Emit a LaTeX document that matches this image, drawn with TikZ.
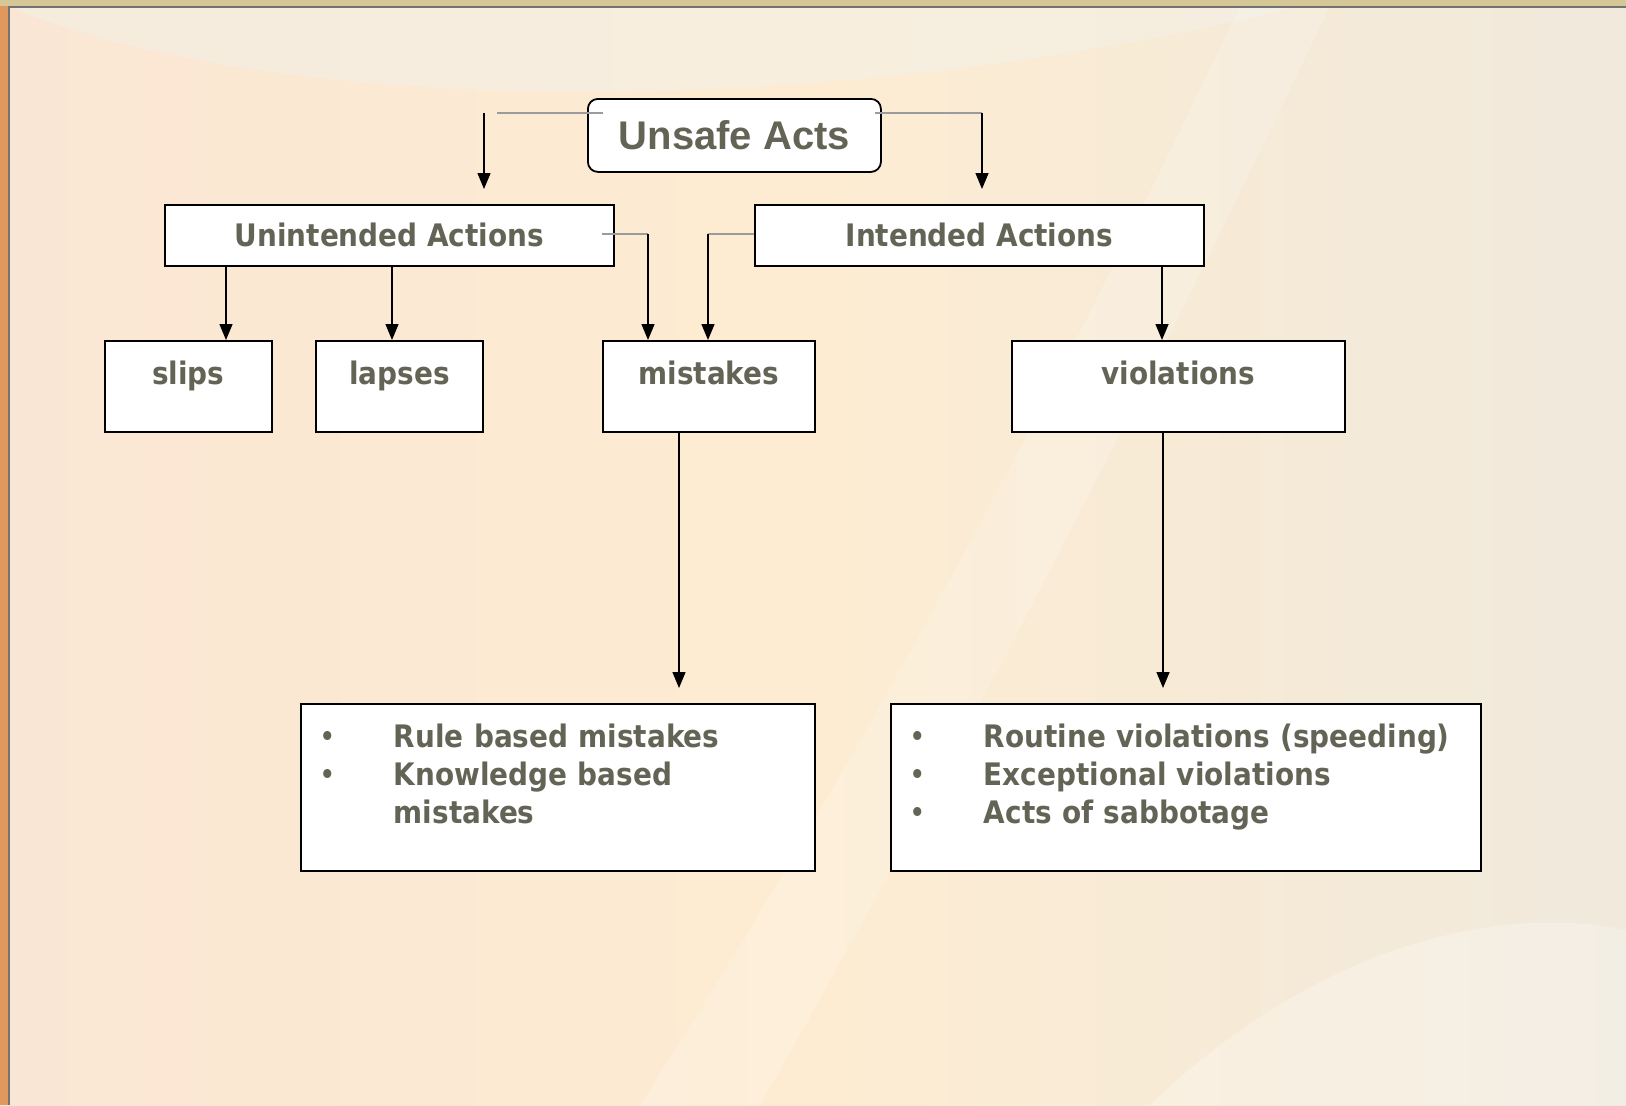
\documentclass[tikz,border=0pt]{standalone}
\usepackage{fontspec}
\setmainfont{DejaVu Sans Condensed}
\newfontfamily\arialfont{Liberation Sans}
\usetikzlibrary{arrows.meta}

\definecolor{txtgray}{RGB}{100,100,86}
\definecolor{linkgray}{RGB}{155,155,155}
\definecolor{peachleft}{RGB}{250,230,212}
\definecolor{peachmid}{RGB}{253,236,210}
\definecolor{peachright}{RGB}{240,233,220}
\definecolor{creamlight}{RGB}{244,240,230}
\definecolor{edgeorange}{RGB}{224,152,92}
\definecolor{edgegold}{RGB}{214,200,150}

\newcommand{\itemdot}{\makebox[37pt][l]{\mdseries\textbullet}}

\begin{document}
\begin{tikzpicture}[x=0.5pt, y=-0.5pt,
  every node/.style={font=\bfseries\fontsize{15.5}{19}\selectfont, text=txtgray},
  box/.style={draw=black, fill=white, line width=0.9pt, anchor=north west, inner sep=0pt},
  leaf/.style={box, text height=14pt, text depth=15.5pt, inner ysep=8pt},
  listbox/.style={box, align=left, inner xsep=9.5pt, inner ysep=8pt, text height=14pt, text depth=53.5pt},
  arr/.style={-{Triangle[length=8pt,width=6.5pt]}, line width=0.7pt},
  link/.style={linkgray, line width=0.8pt}]
  % background
  \useasboundingbox (0,0) rectangle (1626,1105);
  \shade[left color=peachleft, right color=peachright, middle color=peachmid] (0,0) rectangle (1626,1105);
  \fill[creamlight, opacity=0.6] (8,6) .. controls (250,110) and (800,130) .. (1300,6) -- cycle;
  \fill[white, opacity=0.18] (640,1105) .. controls (900,700) and (1100,300) .. (1240,6) -- (1330,6) .. controls (1180,320) and (980,720) .. (760,1105) -- cycle;
  \fill[white, opacity=0.25] (1150,1105) .. controls (1300,960) and (1480,900) .. (1626,930) -- (1626,1105) -- cycle;
  \fill[edgeorange] (0,0) rectangle (8,1105);
  \fill[edgegold] (0,0) rectangle (1626,6);
  \draw[black!55, line width=0.8pt] (9,1105) -- (9,7) -- (1626,7);

  % boxes
  \node[box, rounded corners=5pt, minimum width=146.5pt, minimum height=36.5pt,
    font=\arialfont\bfseries\fontsize{20}{24}\selectfont] (unsafe) at (587,98) {Unsafe Acts};
  \node[box, minimum width=224.5pt, minimum height=30.5pt] (unintended) at (164,204) {Unintended Actions};
  \node[box, minimum width=224.5pt, minimum height=30.5pt] (intended) at (754,204) {Intended Actions};
  \node[leaf, minimum width=83.5pt] (slips) at (104,340) {slips};
  \node[leaf, minimum width=83.5pt] (lapses) at (315,340) {lapses};
  \node[leaf, minimum width=106pt] (mistakes) at (602,340) {mistakes};
  \node[leaf, minimum width=166.5pt] (violations) at (1011,340) {violations};
  \node[listbox, text width=238pt] (mistakelist) at (300,703)
    {\itemdot Rule based mistakes\\ \itemdot Knowledge based\\ \hspace*{37pt}mistakes};
  \node[listbox, text width=276pt] (violationlist) at (890,703)
    {\itemdot Routine violations (speeding)\\ \itemdot Exceptional violations\\ \itemdot Acts of sabbotage};

  % elbow points
  \coordinate (ua) at (603,113);
  \coordinate (ub) at (497,113);
  \coordinate (uc) at (484,113);
  \coordinate (ia) at (875,113);
  \coordinate (ib) at (982,113);
  \coordinate (ma) at (602,234);
  \coordinate (mb) at (648,234);
  \coordinate (mc) at (754,234);
  \coordinate (md) at (708,234);

  % Draw the connectors
  \draw[link] (ua) -- (ub);
  \draw[arr, shorten >=7.5pt] (uc) -- (uc |- unintended.north);
  \draw[link] (ia) -- (ib);
  \draw[arr, shorten >=7.5pt] (ib) -- (ib |- intended.north);
  \draw[link] (ma) -- (mb);
  \draw[arr] (mb) -- (mb |- mistakes.north);
  \draw[link] (mc) -- (md);
  \draw[arr] (md) -- (md |- mistakes.north);
  \draw[arr] (226,0 |- unintended.south) -- (226,0 |- slips.north);
  \draw[arr] (392,0 |- unintended.south) -- (392,0 |- lapses.north);
  \draw[arr] (1162,0 |- intended.south) -- (1162,0 |- violations.north);
  \draw[arr, shorten >=7.5pt] (679,0 |- mistakes.south) -- (679,0 |- mistakelist.north);
  \draw[arr, shorten >=7.5pt] (1163,0 |- violations.south) -- (1163,0 |- violationlist.north);
\end{tikzpicture}
\end{document}
